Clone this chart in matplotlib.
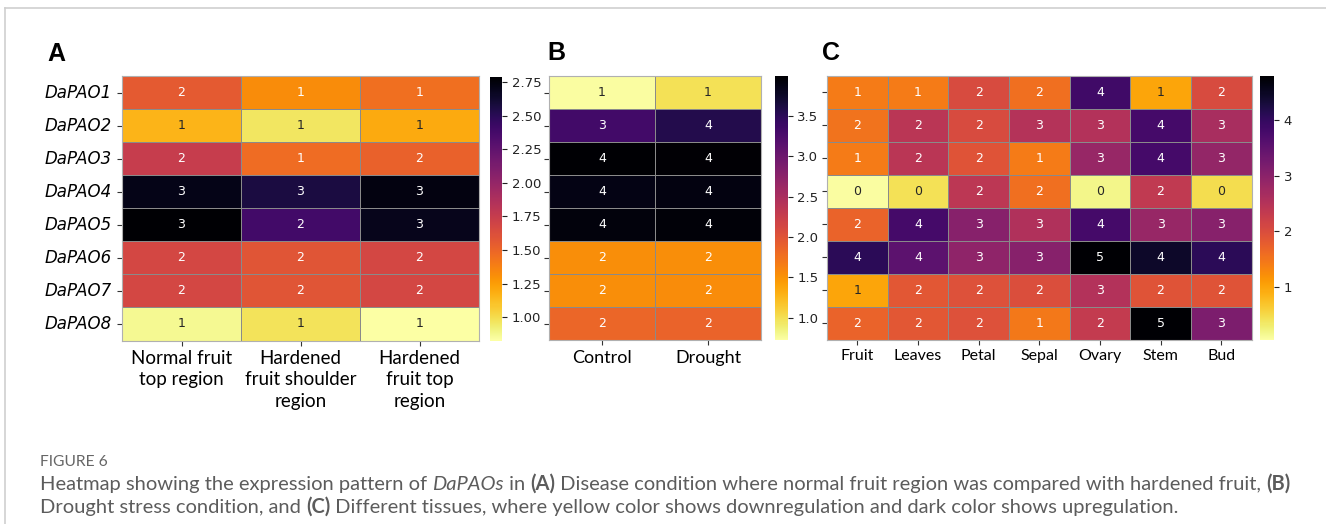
import numpy as np
import pandas as pd
import matplotlib
matplotlib.use("Agg")
import matplotlib.pyplot as plt
import seaborn as sns
from matplotlib.lines import Line2D

# ---------------- data ----------------
genes = ["DaPAO1", "DaPAO2", "DaPAO3", "DaPAO4", "DaPAO5", "DaPAO6", "DaPAO7", "DaPAO8"]

cond_a = ["Normal fruit\ntop region", "Hardened\nfruit shoulder\nregion", "Hardened\nfruit top\nregion"]
vals_a = [
    [1.56, 1.32, 1.45],
    [1.16, 0.96, 1.20],
    [1.75, 1.47, 1.52],
    [2.71, 2.57, 2.73],
    [2.787, 2.39, 2.69],
    [1.67, 1.59, 1.67],
    [1.67, 1.59, 1.67],
    [0.87, 0.98, 0.83],
]

cond_b = ["Control", "Drought"]
vals_b = [
    [0.74, 0.99],
    [3.34, 3.57],
    [3.99, 3.98],
    [3.87, 3.90],
    [3.93, 3.95],
    [1.54, 1.54],
    [1.54, 1.55],
    [1.84, 1.87],
]

tissues = ["Fruit", "Leaves", "Petal", "Sepal", "Ovary", "Stem", "Bud"]
vals_c = [
    [1.42, 1.42, 2.04, 1.56, 3.85, 0.99, 2.04],
    [1.51, 2.42, 2.04, 2.51, 2.52, 3.80, 2.66],
    [1.42, 2.42, 1.90, 1.42, 2.85, 3.80, 2.89],
    [0.06, 0.42, 2.40, 1.56, 0.18, 2.35, 0.45],
    [1.70, 3.80, 3.04, 2.56, 3.80, 2.85, 3.04],
    [4.08, 3.55, 2.94, 3.04, 4.797, 4.45, 4.08],
    [0.99, 1.85, 1.94, 1.99, 2.52, 1.90, 1.90],
    [1.70, 1.85, 1.94, 1.47, 2.32, 4.797, 3.18],
]

range_a = (0.827, 2.787)
range_b = (0.724, 3.996)
range_c = (0.04, 4.797)

caption_title = "FIGURE 6"
caption_line1 = [("Heatmap showing the expression pattern of ", "normal", "normal"),
                 ("DaPAOs", "italic", "normal"),
                 (" in ", "normal", "normal"),
                 ("(A)", "normal", "bold"),
                 (" Disease condition where normal fruit region was compared with hardened fruit, ", "normal", "normal"),
                 ("(B)", "normal", "bold")]
caption_line2 = [("Drought stress condition, and ", "normal", "normal"),
                 ("(C)", "normal", "bold"),
                 (" Different tissues, where yellow color shows downregulation and dark color shows upregulation.", "normal", "normal")]

# ---------------- figure ----------------
W, H = 1326, 524
fig = plt.figure(figsize=(W / 100, H / 100), dpi=100)
fig.patch.set_facecolor("white")


def px_axes(x0, y0, x1, y1):
    return fig.add_axes([x0 / W, 1 - y1 / H, (x1 - x0) / W, (y1 - y0) / H])


label_font = ["Lato", "DejaVu Sans"]


def draw_heat(ax, cax, data, rows, cols, vrange, xfs, ylabels):
    df = pd.DataFrame(data, index=rows, columns=cols)
    sns.heatmap(df, ax=ax, cbar_ax=cax, cmap="inferno_r", vmin=vrange[0], vmax=vrange[1],
                annot=True, fmt=".0f", annot_kws={"fontsize": 9},
                linewidths=0.6, linecolor="#8a8a8a")
    ax.set_xlabel("")
    ax.set_ylabel("")
    ax.set_xticklabels(cols, rotation=0, fontsize=xfs, family=label_font, linespacing=1.3,
                       va="top", ha="center")
    if ylabels:
        ax.set_yticklabels(rows, rotation=0, fontsize=12, style="italic")
    else:
        ax.set_yticklabels([""] * len(rows))
    ax.tick_params(axis="both", length=3.5, width=0.8, color="#333333")
    cax.tick_params(labelsize=9.5, length=3.5, width=0.8, colors="#222222")
    for sp in ["left", "right", "top", "bottom"]:
        ax.spines[sp].set_visible(True)
        ax.spines[sp].set_color("#b0b0b0")
        ax.spines[sp].set_linewidth(0.8)


ax_a = px_axes(122, 76, 479, 340.5)
cax_a = px_axes(490, 77, 502, 340.5)
draw_heat(ax_a, cax_a, vals_a, genes, cond_a, range_a, 13.5, True)

ax_b = px_axes(549, 76, 761, 340)
cax_b = px_axes(775, 76, 787.5, 340)
draw_heat(ax_b, cax_b, vals_b, genes, cond_b, range_b, 13, False)

ax_c = px_axes(827, 76, 1251.5, 339.5)
cax_c = px_axes(1260, 76, 1274, 340)
draw_heat(ax_c, cax_c, vals_c, genes, tissues, range_c, 11.5, False)

# panel letters
for lab, x, y in [("A", 47, 61), ("B", 547, 60.5), ("C", 822, 59.5)]:
    fig.text(x / W, 1 - y / H, lab, fontsize=18, fontweight="bold",
             family=["Liberation Sans", "DejaVu Sans"], ha="left", va="baseline")

# frame lines
fig.add_artist(Line2D([4.5 / W, 1.0], [1 - 7.5 / H, 1 - 7.5 / H], transform=fig.transFigure,
                      color="#cfcfcf", lw=1.2))
fig.add_artist(Line2D([4.5 / W, 4.5 / W], [1 - 7.5 / H, 0.0], transform=fig.transFigure,
                      color="#cfcfcf", lw=1.2))

# ---------------- caption ----------------
cap_font = ["Lato", "DejaVu Sans"]
cap_color = "#5c5c5c"
renderer = fig.canvas.get_renderer()


def rich_line(parts, x_px, y_px, fs):
    x = x_px
    texts = []
    for s, st, wt in parts:
        t = fig.text(x / W, 1 - y_px / H, s, fontsize=fs, style=st, fontweight=wt,
                     family=cap_font, color=cap_color, ha="left", va="baseline")
        bb = t.get_window_extent(renderer)
        x += bb.width
        texts.append(t)
    return texts, x - x_px


# fit line 1 to target width
probe, wprobe = rich_line(caption_line1, 40, 600, 10)
for t in probe:
    t.remove()
cap_fs = 10 * (1253.0 / wprobe)

fig.text(40 / W, 1 - 466 / H, caption_title, fontsize=cap_fs * 0.78, family=cap_font,
         color="#666666", ha="left", va="baseline")
rich_line(caption_line1, 40, 490, cap_fs)
rich_line(caption_line2, 40, 513, cap_fs)

fig.savefig("out.png", dpi=100, facecolor="white")
